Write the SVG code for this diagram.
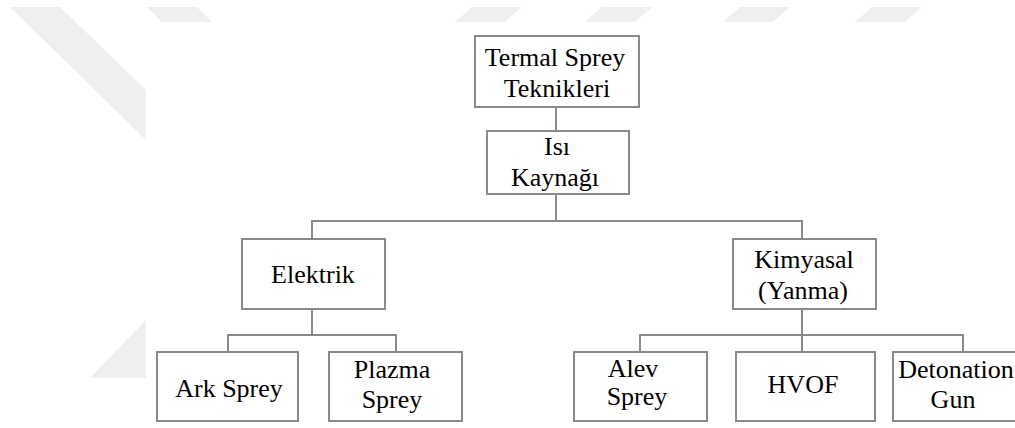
<svg xmlns="http://www.w3.org/2000/svg" width="1015" height="428" viewBox="0 0 1015 428">
<style>
.wm{fill:#efefef;stroke:none}
.box{fill:#fff;stroke:#8a8a8a;stroke-width:2}
.ln{fill:none;stroke:#8a8a8a;stroke-width:2}
text{font-family:'Liberation Serif',serif;font-size:26px;fill:#000;text-anchor:middle}
</style>
<rect width="1015" height="428" fill="#fff"/>
<g id="watermark">
<polygon class="wm" points="10,7 60,7 146,90 146,140"/>
<polygon class="wm" points="146,320 146,378 90,378"/>
<polygon class="wm" points="147,7 197,7 212,22 162,22"/>
<polygon class="wm" points="472,7 522,7 505,22 455,22"/>
<polygon class="wm" points="602,7 652,7 635,22 585,22"/>
<polygon class="wm" points="740,7 790,7 773,22 723,22"/>
<polygon class="wm" points="872,7 922,7 905,22 855,22"/>
</g>
<g id="connectors">
<line class="ln" x1="556" y1="107" x2="556" y2="131"/>
<polyline class="ln" points="556,194 556,221"/>
<polyline class="ln" points="312,239 312,221 802,221 802,239"/>
<polyline class="ln" points="312,309 312,335"/>
<polyline class="ln" points="228,352 228,335 396,335 396,352"/>
<polyline class="ln" points="802,309 802,335"/>
<polyline class="ln" points="640,352 640,335 963,335 963,352"/>
<line class="ln" x1="802" y1="335" x2="802" y2="352"/>
</g>
<g id="n-termal">
<rect class="box" x="475" y="36" width="164" height="71"/>
<text x="555" y="66">Termal Sprey</text>
<text x="557" y="97">Teknikleri</text>
</g>
<g id="n-isi">
<rect class="box" x="487" y="131" width="142" height="63"/>
<text x="557" y="155">Isı</text>
<text x="555" y="186">Kaynağı</text>
</g>
<g id="n-elektrik">
<rect class="box" x="242" y="239" width="143" height="70"/>
<text x="313" y="283">Elektrik</text>
</g>
<g id="n-kimyasal">
<rect class="box" x="733" y="239" width="143" height="70"/>
<text x="804" y="268">Kimyasal</text>
<text x="803" y="299">(Yanma)</text>
</g>
<g id="n-ark">
<rect class="box" x="157" y="352" width="141" height="69"/>
<text x="229" y="397">Ark Sprey</text>
</g>
<g id="n-plazma">
<rect class="box" x="329" y="352" width="133" height="69"/>
<text x="392" y="378">Plazma</text>
<text x="392" y="408">Sprey</text>
</g>
<g id="n-alev">
<rect class="box" x="574" y="352" width="133" height="69"/>
<text x="633" y="377">Alev</text>
<text x="637" y="405">Sprey</text>
</g>
<g id="n-hvof">
<rect class="box" x="736" y="352" width="139" height="69"/>
<text x="803" y="393">HVOF</text>
</g>
<g id="n-detonation">
<rect class="box" x="893" y="352" width="140" height="69"/>
<text x="956" y="378">Detonation</text>
<text x="953" y="408">Gun</text>
</g>
</svg>
